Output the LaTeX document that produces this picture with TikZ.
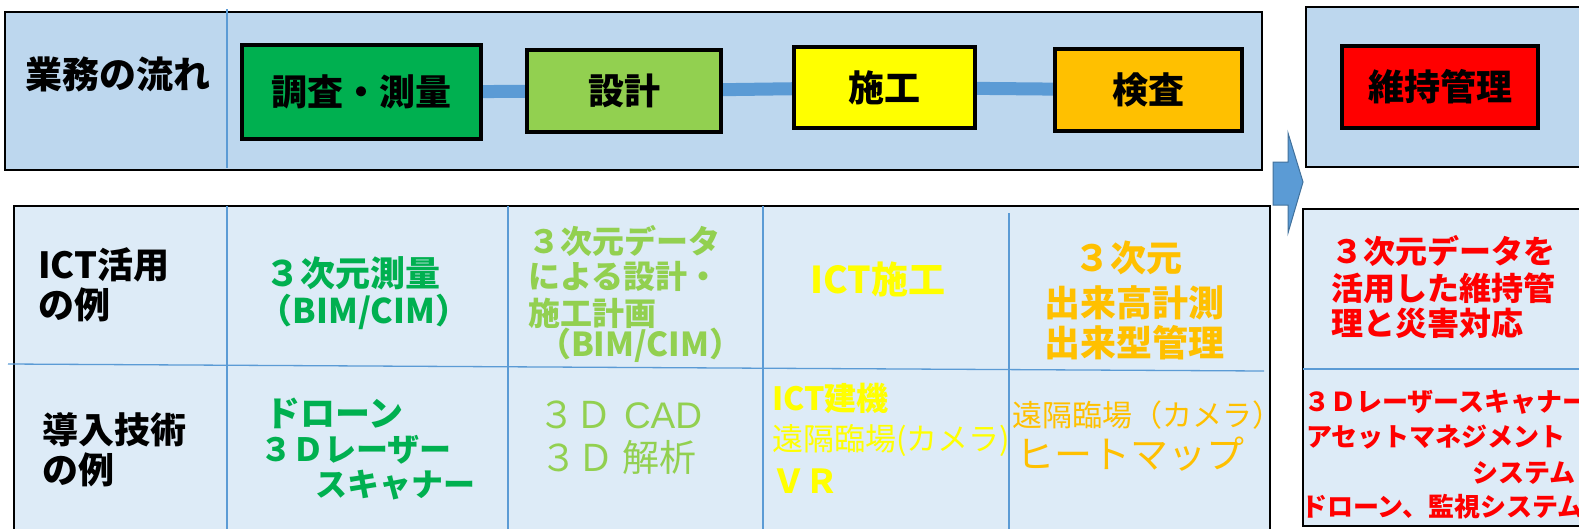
\documentclass[tikz,border=0pt]{standalone}
\usepackage{fontspec}
\setmainfont{Noto Sans CJK JP}
\newfontfamily\latn{Liberation Sans}
\usetikzlibrary{backgrounds}
\definecolor{panelblue}{HTML}{BDD7EE}
\definecolor{tablefill}{HTML}{DDEBF7}
\definecolor{linkblue}{HTML}{5B9BD5}
\definecolor{arrowedge}{HTML}{41719C}
\definecolor{survgreen}{HTML}{00B050}
\definecolor{lightgreen}{HTML}{92D050}
\definecolor{pureyellow}{HTML}{FFFF00}
\definecolor{amber}{HTML}{FFC000}
\definecolor{purered}{HTML}{FF0000}
\newcommand\setfs[1]{\fontsize{#1pt}{#1pt}\selectfont}
\tikzset{
  panel/.style={draw=black, line width=2pt, inner sep=0pt, outer sep=0pt, anchor=north west},
  flowbox/.style={draw=black, line width=3.5pt, inner sep=0pt, font=\setfs{36}\bfseries},
  conn/.style={draw=linkblue, line width=13pt},
  divline/.style={draw=linkblue, line width=1.3pt},
  bigarrow/.style={fill=linkblue, draw=arrowedge, line width=1pt, line join=miter},
  txt/.style={inner sep=0pt, outer sep=0pt},
  bw/.style={txt, anchor=base west},
  bc/.style={txt, anchor=base},
}
\begin{document}
\begin{tikzpicture}[x=1pt, y=-1pt]
\useasboundingbox (0,0) rectangle (1579,528);
\clip (0,0) rectangle (1579,528);

\begin{scope}[on background layer]
  \node[panel, fill=panelblue, minimum width=1257pt, minimum height=158pt] (flowpanel) at (5,12) {};
  \node[panel, fill=panelblue, minimum width=300pt, minimum height=160pt] (mainpanel) at (1306,7) {};
  \node[panel, fill=tablefill, minimum width=1256pt, minimum height=340pt] (ictpanel) at (14,206) {};
  \node[panel, fill=tablefill, minimum width=300pt, minimum height=317pt] (mainict) at (1303,209) {};
\end{scope}

% dividers
\draw[divline] (227,9) -- (227,168);
\draw[divline] (227,206) -- (227,540);
\draw[divline] (508,206) -- (508,540);
\draw[divline] (763,206) -- (763,540);
\draw[divline] (1009,213) -- (1009,540);
\draw[divline] (8,364) -- (1264,371);
\draw[divline] (1303,369) -- (1600,369);

% flow
\node[txt, anchor=base, font=\setfs{37}\bfseries] (flowlabel) at (118,88) {業務の流れ};
\node[flowbox, fill=survgreen, minimum width=239pt, minimum height=94pt] (survey) at (361.5,92) {調査・測量};
\node[flowbox, fill=lightgreen, minimum width=194pt, minimum height=82pt] (design) at (624,91) {設計};
\node[flowbox, fill=pureyellow, minimum width=181pt, minimum height=81pt] (construct) at (884.5,87.5) {施工};
\node[flowbox, fill=amber, minimum width=187pt, minimum height=82pt] (inspect) at (1148.5,90) {検査};
\node[flowbox, fill=purered, minimum width=196pt, minimum height=82pt] (maintain) at (1440,87) {維持管理};

\begin{scope}[on background layer]
  \draw[conn] (survey) -- (design);
  \draw[conn] (design) -- (construct);
  \draw[conn] (construct) -- (inspect);
\end{scope}

% block arrow
\draw[bigarrow] (1273,162) -- (1288,162) -- (1288,133) -- (1303,182) -- (1288,233) -- (1288,205) -- (1273,205) -- cycle;

% column 1
\node[bw, font=\setfs{36}\bfseries] (useh1) at (38,278) {ICT活用};
\node[bw, font=\setfs{36}\bfseries] (useh2) at (38,318) {の例};
\node[bw, font=\setfs{36}\bfseries] (techh1) at (42,443) {導入技術};
\node[bw, font=\setfs{36}\bfseries] (techh2) at (42,483) {の例};

% column 2
\begin{scope}[survgreen]
\node[bc, font=\setfs{35}\bfseries] (c2a1) at (353,286) {３次元測量};
\node[bc, font=\setfs{34}\bfseries] (c2a2) at (364,323) {（BIM/CIM）};
\node[bw, font=\setfs{35}\bfseries] (c2b1) at (265,426) {ドローン};
\node[bw, font=\setfs{32}\bfseries] (c2b2) at (260,461) {３Ｄレーザー};
\node[bw, font=\setfs{32}\bfseries] (c2b3) at (315,496) {スキャナー};
\end{scope}

% column 3
\begin{scope}[lightgreen]
\node[bw, font=\setfs{32}\bfseries] (c3a1) at (528,253) {３次元データ};
\node[bw, font=\setfs{32}\bfseries] (c3a2) at (528,288) {による設計・};
\node[bw, font=\setfs{32}\bfseries] (c3a3) at (528,325) {施工計画};
\node[bw, font=\setfs{33}\bfseries] (c3a4) at (538,356) {（BIM/CIM）};
\node[bw, font=\setfs{37}] (c3b1) at (538,428) {３Ｄ\hspace{12pt}{\latn CAD}};
\node[bw, font=\setfs{37}] (c3b2) at (540,471) {３Ｄ 解析};
\end{scope}

% column 4
\begin{scope}[pureyellow]
\node[bc, font=\setfs{37}\bfseries] (c4a) at (878,293) {ICT施工};
\node[bw, font=\setfs{32}\bfseries] (c4b1) at (772,410) {ICT建機};
\node[bw, font=\setfs{31}] (c4b2) at (772,450) {遠隔臨場(カメラ)};
\node[bw, font=\setfs{33}\bfseries] (c4b3) at (772,493) {ＶＲ};
\end{scope}

% column 5
\begin{scope}[amber]
\node[bc, font=\setfs{36}\bfseries] (c5a1) at (1128,271) {３次元};
\node[bc, font=\setfs{36}\bfseries] (c5a2) at (1134,316) {出来高計測};
\node[bc, font=\setfs{36}\bfseries] (c5a3) at (1134,356) {出来型管理};
\node[bw, font=\setfs{30}] (c5b1) at (1012,426) {遠隔臨場（カメラ）};
\node[bw, font=\setfs{38}] (c5b2) at (1016,468) {ヒートマップ};
\end{scope}

% maintenance column
\begin{scope}[purered]
\node[bw, font=\setfs{32}\bfseries] (r1) at (1331,263) {３次元データを};
\node[bw, font=\setfs{32}\bfseries] (r2) at (1331,300) {活用した維持管};
\node[bw, font=\setfs{32}\bfseries] (r3) at (1331,335) {理と災害対応};
\node[bw, font=\setfs{26}\bfseries] (r4) at (1304,411) {３Ｄレーザースキャナー};
\node[bw, font=\setfs{26}\bfseries] (r5) at (1306,446) {アセットマネジメント};
\node[bw, font=\setfs{26}\bfseries] (r6) at (1472,482) {システム};
\node[bw, font=\setfs{26}\bfseries] (r7) at (1301,516) {ドローン、監視システム};
\end{scope}
\end{tikzpicture}
\end{document}
